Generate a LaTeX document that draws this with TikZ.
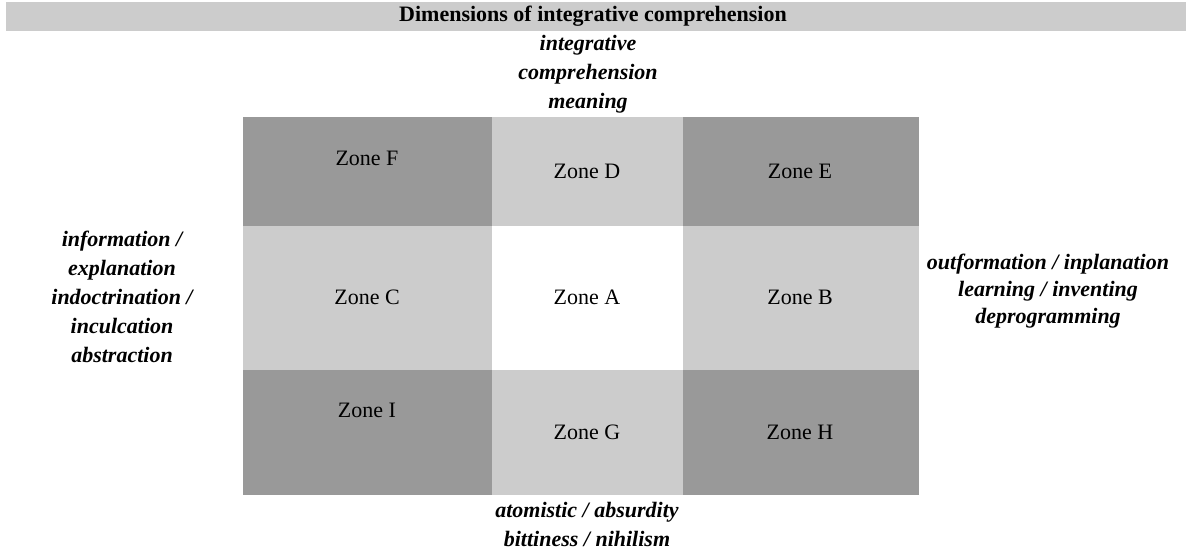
\documentclass[tikz,border=0pt]{standalone}
\usepackage{fontspec}
\setmainfont{Liberation Serif}
\usepackage{tikz}

\definecolor{darkzone}{HTML}{999999}
\definecolor{lightzone}{HTML}{CCCCCC}

\tikzset{
  zonetext/.style={font=\fontsize{22}{26}\selectfont, inner sep=0pt},
  axistext/.style={font=\fontsize{22}{29}\selectfont\bfseries\itshape, align=center, inner sep=0pt}
}

\begin{document}
\begin{tikzpicture}[x=1pt, y=-1pt]
  \useasboundingbox (0,0) rectangle (1186,550);

  % title bar
  \fill[lightzone] (6,2) rectangle (1186,31);
  \node[zonetext, font=\fontsize{22}{26}\selectfont\bfseries] (title) at (593,16) {Dimensions of integrative comprehension};

  % top row
  \fill[darkzone]  (243,117) rectangle (492,226);
  \fill[lightzone] (492,117) rectangle (683,226);
  \fill[darkzone]  (683,117) rectangle (919,226);

  % middle row
  \fill[lightzone] (243,226) rectangle (492,370);
  \fill[white]     (492,226) rectangle (683,370);
  \fill[lightzone] (683,226) rectangle (919,370);

  % bottom row
  \fill[darkzone]  (243,370) rectangle (492,495);
  \fill[lightzone] (492,370) rectangle (683,495);
  \fill[darkzone]  (683,370) rectangle (919,495);

  \node[zonetext] (zoneF) at (367,158) {Zone F};
  \node[zonetext] (zoneD) at (587,171) {Zone D};
  \node[zonetext] (zoneE) at (800,171) {Zone E};
  \node[zonetext] (zoneC) at (367,297) {Zone C};
  \node[zonetext] (zoneA) at (587,297) {Zone A};
  \node[zonetext] (zoneB) at (800,297) {Zone B};
  \node[zonetext] (zoneI) at (367,410) {Zone I};
  \node[zonetext] (zoneG) at (587,432) {Zone G};
  \node[zonetext] (zoneH) at (800,432) {Zone H};

  % axis labels
  \node[axistext] (top) at (588,74) {integrative\\comprehension\\meaning};
  \node[axistext] (left) at (122,297) {information /\\explanation\\indoctrination /\\inculcation\\abstraction};
  \node[axistext, font=\fontsize{22}{27}\selectfont\bfseries\itshape] (right) at (1048,291) {outformation / inplanation\\learning / inventing\\deprogramming};
  \node[axistext] (bottom) at (587,524) {atomistic / absurdity\\bittiness / nihilism};

\end{tikzpicture}
\end{document}
